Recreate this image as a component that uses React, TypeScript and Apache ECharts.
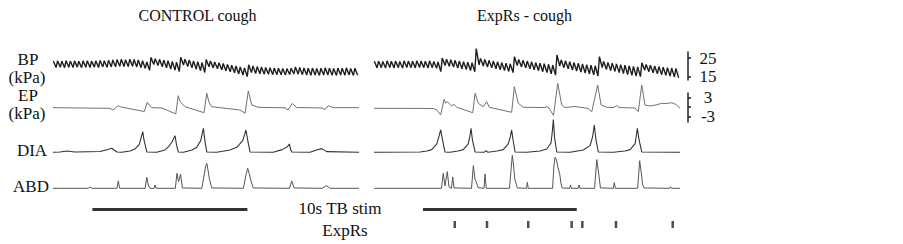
import { useEffect, useRef } from "react";
import * as echarts from "echarts";

// ---- time base (seconds) ----
const PANEL_SECONDS = 19.74;
const BEAT_SECONDS = 0.274;

// ---- BP (kPa): per-beat systolic peaks and diastolic troughs ----
const BP_LEFT_PEAKS = [
  23.4, 23.5, 23.4, 23.6, 23.4, 23.5, 23.3, 23.5, 23.6, 23.4, 23.5, 23.7, 23.6, 23.8,
  24.0, 24.2, 24.3, 24.1, 24.4, 24.2, 24.0, 23.6,
  23.0,
  25.3,
  24.6, 24.3, 23.9, 23.6, 23.2, 22.8,
  25.4,
  24.4, 24.0, 23.5, 23.1, 22.6,
  24.2,
  23.4, 22.9, 22.5, 22.1, 21.6, 21.2, 20.8, 20.3, 19.8,
  21.4,
  20.8, 20.5, 20.3, 20.0, 19.9, 19.7, 19.6, 19.5, 19.4, 19.6,
  20.3, 20.0, 19.8, 19.6, 19.7, 19.5, 19.6, 19.8, 19.6, 19.5, 19.7, 19.6, 19.8, 19.5, 19.6,
];
const BP_LEFT_TROUGHS = [
  20.0, 20.1, 19.9, 20.1, 20.0, 20.2, 19.9, 20.1, 20.0, 20.2, 20.0, 20.3, 20.1, 20.3,
  20.4, 20.6, 20.5, 20.4, 20.6, 20.3, 19.9, 19.5,
  18.5,
  21.6,
  21.0, 20.4, 19.8, 19.2, 18.6, 17.9,
  21.3,
  20.5, 19.8, 19.1, 18.3, 17.4,
  20.4,
  19.8, 19.3, 18.8, 18.2, 17.7, 17.2, 16.6, 16.0, 15.2,
  17.3,
  16.9, 16.7, 16.5, 16.4, 16.3, 16.2, 16.2, 16.1, 16.3, 16.6,
  16.5, 16.2, 16.0, 15.9, 16.0, 15.8, 16.0, 16.1, 15.9, 15.8, 16.0, 15.9, 16.1, 15.8, 15.9,
];
const BP_RIGHT_PEAKS = [
  23.3, 23.4, 23.2, 23.5, 23.3, 23.4, 23.2, 23.5, 23.4, 23.3, 23.5, 23.4, 23.3, 23.5, 23.2,
  22.9,
  25.0,
  24.4, 24.1, 23.8, 23.4, 23.1, 22.8, 22.5,
  30.0,
  24.8, 24.2, 23.8, 23.4, 23.0, 22.6, 22.3, 21.9,
  25.7,
  24.2, 23.8, 23.4, 23.0, 22.6, 22.3, 22.0, 21.7, 21.3,
  26.6,
  24.0, 23.5, 23.1, 22.6, 22.2, 21.8, 21.5, 21.2, 20.9,
  25.7,
  23.2, 22.7, 22.3, 21.9, 21.5, 21.2, 20.9, 20.6, 20.3,
  22.5,
  21.6, 21.2, 20.8, 20.5, 20.2, 19.9, 19.7, 19.5,
];
const BP_RIGHT_TROUGHS = [
  19.8, 19.9, 19.7, 20.0, 19.8, 19.9, 19.7, 20.0, 19.9, 19.8, 20.0, 19.9, 19.8, 19.9, 19.6,
  17.8,
  21.0,
  20.6, 20.2, 19.7, 19.3, 18.9, 18.4, 17.8,
  21.4,
  20.8, 20.3, 19.8, 19.3, 18.8, 18.4, 17.9, 17.3,
  21.0,
  20.3, 19.8, 19.3, 18.8, 18.3, 17.8, 17.3, 16.7, 16.0,
  20.8,
  19.9, 19.3, 18.7, 18.2, 17.6, 17.1, 16.6, 16.1, 15.5,
  20.0,
  19.0, 18.4, 17.9, 17.3, 16.8, 16.3, 15.9, 15.5, 15.2,
  18.6,
  17.8, 17.2, 16.7, 16.2, 15.8, 15.4, 15.0, 14.6,
];

// ---- EP (kPa): [time s, value] ----
const EP_LEFT: [number, number][] = [
  [0, -0.15], [3.68, -0.35], [3.87, -0.9], [4.21, 0.47], [4.39, 0.06], [5.89, -1.34], [6.08, 1.53],
  [6.23, 0.53], [6.37, -0.15], [7.03, -0.25], [7.92, -2.1], [8.08, 3.6], [8.16, 2.25], [8.24, 1.53],
  [8.52, 0.16], [9.74, -1.72], [9.92, 4.34], [10.06, 1.6], [10.24, 0.16], [12.06, -0.88], [12.39, -1.9],
  [12.6, 5.06], [12.82, 0.69], [13.23, -0.03], [14.97, -0.19], [15.16, -0.88], [15.44, 1.16],
  [15.72, -0.1], [17.35, -0.25], [17.55, -0.72], [17.76, 0.47], [18.08, -0.15], [19.74, -0.15],
];
const EP_RIGHT: [number, number][] = [
  [0, -0.34], [3.83, -0.4], [4.05, -0.88], [4.3, -2.44], [4.52, 2.47], [4.62, 1.3], [4.73, 1.72],
  [5.01, 0.38], [5.16, 0.9], [5.34, -0.03], [6.37, -1.72], [6.52, 4.34], [6.73, 1.22], [7.05, 0.16],
  [7.27, 1.72], [7.44, -0.03], [8.88, -1.6], [9.05, 6.4], [9.31, 1.22], [9.63, -0.03], [11.03, -0.1],
  [11.16, 0.2], [11.29, -0.25], [11.58, -2.6], [11.85, 7.47], [12.11, 0.69], [12.32, -0.1],
  [12.97, 0.22], [13.42, -0.1], [13.81, -0.4], [14.05, -1.4], [14.43, 6.94], [14.65, 0.69],
  [15.01, -0.03], [15.48, -0.1], [15.66, 0.53], [15.81, -0.1], [16.84, -0.25], [17.05, -1.4],
  [17.27, 6.94], [17.48, 0.69], [17.81, 0.38], [18.19, 0.69], [18.56, 1.22], [18.84, 1.16],
  [19.21, 1.4], [19.48, 0.84], [19.74, -0.34],
];

// ---- DIA EMG (a.u.): [time s, value] ----
const DIA_LEFT: [number, number][] = [
  [0, 0], [0.45, 1], [0.9, 4], [1.42, 1], [3.03, 2.4], [3.55, 8.4], [3.79, 12], [3.94, 7], [4.13, 1],
  [4.43, 0], [4.97, 4], [5.29, 10], [5.57, 24], [5.68, 43], [5.79, 62], [5.87, 37], [6.05, 1],
  [6.69, 0], [7.23, 7], [7.44, 16], [7.68, 31], [7.87, 50], [7.97, 22], [8.08, 1], [8.41, 0],
  [8.97, 7], [9.27, 15], [9.53, 35], [9.7, 72], [9.81, 31], [9.92, 1], [10.56, 0], [11.42, 7],
  [11.85, 15], [12.24, 35], [12.45, 67], [12.58, 31], [12.71, 1], [14.21, 0], [14.77, 8],
  [15.1, 16], [15.25, 25], [15.32, 10], [15.4, 1], [16.58, 0], [17.01, 7], [17.34, 11],
  [17.66, 2], [19.74, 0],
];
const DIA_RIGHT: [number, number][] = [
  [0, 0], [2.97, 1], [3.42, 4], [3.72, 8], [4.05, 25], [4.2, 49], [4.3, 67], [4.42, 37], [4.58, 1],
  [4.9, 0], [5.42, 4], [5.76, 8], [6.08, 25], [6.19, 49], [6.26, 72], [6.35, 37], [6.52, 1],
  [7.1, 0], [7.23, 5], [7.35, 0], [7.94, 4], [8.34, 8], [8.66, 25], [8.79, 46], [8.88, 67],
  [8.97, 37], [9.1, 1], [9.85, 0], [10.71, 4], [11.14, 10], [11.42, 28], [11.5, 61], [11.57, 98],
  [11.65, 43], [11.79, 1], [12.65, 0], [13.5, 7], [13.94, 20], [14.1, 46], [14.21, 82],
  [14.32, 37], [14.47, 1], [15.44, 0], [16.19, 4], [16.52, 8], [16.84, 25], [16.92, 49],
  [16.99, 72], [17.1, 37], [17.27, 1], [19.74, 0],
];

// ---- ABD EMG (a.u.): [time s, value] ----
const ABD_LEFT: [number, number][] = [
  [0, 0], [2.26, 0], [2.39, 4], [2.52, 0], [4.13, 0], [4.21, 22], [4.3, 0], [5.94, 0], [6.05, 33],
  [6.16, 7], [6.26, 0], [6.52, 0], [6.58, 10], [6.65, 0], [7.89, 0], [8.0, 45], [8.1, 20],
  [8.23, 42], [8.35, 1], [9.6, 0], [9.74, 37], [9.84, 64], [9.92, 75], [10.0, 55], [10.08, 30],
  [10.24, 1], [12.28, 0], [12.45, 40], [12.56, 60], [12.68, 40], [12.77, 22], [12.92, 1],
  [15.26, 0], [15.4, 22], [15.55, 1], [17.35, 0], [17.66, 8], [17.87, 0], [19.74, 0],
];
const ABD_RIGHT: [number, number][] = [
  [0, 0], [4.35, 0], [4.47, 45], [4.58, 7], [4.73, 50], [4.84, 4], [5.0, 0], [5.08, 34], [5.16, 1],
  [6.29, 0], [6.41, 68], [6.52, 25], [6.6, 19], [6.71, 2], [7.1, 0], [7.16, 43], [7.24, 0],
  [8.74, 0], [8.84, 55], [8.92, 99], [9.0, 70], [9.08, 28], [9.25, 1], [9.84, 0], [9.89, 18],
  [9.95, 0], [11.52, 0], [11.61, 70], [11.68, 93], [11.77, 86], [11.87, 61], [11.98, 43],
  [12.06, 16], [12.13, 1], [12.63, 0], [12.68, 10], [12.73, 0], [13.17, 0], [13.23, 10],
  [13.28, 0], [14.23, 0], [14.37, 86], [14.48, 49], [14.61, 1], [15.44, 0], [15.5, 17],
  [15.57, 0], [17.01, 0], [17.14, 83], [17.26, 40], [17.32, 13], [17.42, 1], [19.06, 0],
  [19.13, 5], [19.19, 0], [19.74, 0],
];

// ---- events ----
const STIM_LEFT = [2.54, 12.54];
const STIM_RIGHT = [3.16, 13.08];
const EXPR_TIMES = [5.21, 7.29, 9.95, 12.75, 13.44, 15.61, 19.27];

// ---- scale bars ----
const BP_SCALE_TICKS = [15, 25];
const EP_SCALE_TICKS = [-3, 0, 3];
const EP_SCALE_LABELS = [-3, 3];

// ---- texts ----
const PANEL_TITLES = ["CONTROL cough", "ExpRs - cough"];
const ROW_LABELS = ["BP", "(kPa)", "EP", "(kPa)", "DIA", "ABD"];

const SERIF = '"Liberation Serif", "Times New Roman", Times, serif';

function beatsToPoints(peaks: number[], troughs: number[]): [number, number][] {
  const pts: [number, number][] = [];
  peaks.forEach((p, i) => {
    pts.push([i * BEAT_SECONDS + 0.02, p]);
    pts.push([i * BEAT_SECONDS + 0.2, troughs[i]]);
  });
  return pts;
}

export default function App() {
  const ref = useRef<HTMLDivElement>(null);

  useEffect(() => {
    if (!ref.current) return;
    const chart = echarts.init(ref.current, undefined, { renderer: "svg" });

    const panels = [
      { left: 53, width: 306 },
      { left: 374, width: 306 },
    ];
    const rows = [
      { top: 46.6, height: 33.25, min: 13.5, max: 31 }, // BP
      { top: 80.64, height: 40.96, min: -4.5, max: 8.3 }, // EP
      { top: 117.3, height: 36, min: -3, max: 105 }, // DIA
      { top: 153.3, height: 36, min: -3, max: 105 }, // ABD
      { top: 209.5, height: 15, min: 0, max: 1 }, // events
    ];

    const grids: any[] = [];
    const xAxes: any[] = [];
    const yAxes: any[] = [];
    rows.forEach((r) => {
      panels.forEach((p) => {
        const gi = grids.length;
        grids.push({ left: p.left, width: p.width, top: r.top, height: r.height, containLabel: false });
        xAxes.push({ gridIndex: gi, type: "value", min: 0, max: PANEL_SECONDS, show: false });
        yAxes.push({ gridIndex: gi, type: "value", min: r.min, max: r.max, show: false });
      });
    });
    const gIdx = (row: number, panel: number) => row * 2 + panel;

    // scale bar grids
    const scaleAxisCommon = {
      type: "value",
      position: "right",
      axisLine: { show: true, onZero: false, lineStyle: { color: "#222", width: 1.5 } },
      splitLine: { show: false },
    };
    const bpScaleGrid = grids.length;
    grids.push({ left: 687, width: 1, top: 52, height: 28 });
    xAxes.push({ gridIndex: bpScaleGrid, type: "value", min: 0, max: 1, show: false });
    yAxes.push({
      ...scaleAxisCommon,
      gridIndex: bpScaleGrid,
      min: 13.42,
      max: 28.16,
      axisTick: { show: true, inside: false, length: 3, customValues: BP_SCALE_TICKS, lineStyle: { color: "#222", width: 1.5 } },
      axisLabel: { show: true, customValues: BP_SCALE_TICKS, margin: 20, align: "center", fontFamily: SERIF, fontSize: 17, color: "#111" },
    });
    const epScaleGrid = grids.length;
    grids.push({ left: 687, width: 1, top: 93, height: 29 });
    xAxes.push({ gridIndex: epScaleGrid, type: "value", min: 0, max: 1, show: false });
    yAxes.push({
      ...scaleAxisCommon,
      gridIndex: epScaleGrid,
      min: -4.63,
      max: 4.44,
      axisTick: { show: true, inside: false, length: 3, customValues: EP_SCALE_TICKS, lineStyle: { color: "#222", width: 1.5 } },
      axisLabel: { show: true, customValues: EP_SCALE_LABELS, margin: 20, align: "center", fontFamily: SERIF, fontSize: 17, color: "#111" },
    });

    const trace = (gi: number, data: [number, number][], color: string, width: number) => ({
      type: "line",
      xAxisIndex: gi,
      yAxisIndex: gi,
      data,
      symbol: "none",
      silent: true,
      lineStyle: { color, width },
    });

    const series: any[] = [
      trace(gIdx(0, 0), beatsToPoints(BP_LEFT_PEAKS, BP_LEFT_TROUGHS), "#1e1e1e", 1.4),
      trace(gIdx(0, 1), beatsToPoints(BP_RIGHT_PEAKS, BP_RIGHT_TROUGHS), "#1e1e1e", 1.4),
      trace(gIdx(1, 0), EP_LEFT, "#707070", 1),
      trace(gIdx(1, 1), EP_RIGHT, "#707070", 1),
      trace(gIdx(2, 0), DIA_LEFT, "#333333", 1.1),
      trace(gIdx(2, 1), DIA_RIGHT, "#333333", 1.1),
      trace(gIdx(3, 0), ABD_LEFT, "#555555", 1),
      trace(gIdx(3, 1), ABD_RIGHT, "#555555", 1),
      trace(gIdx(4, 0), [[STIM_LEFT[0], 1], [STIM_LEFT[1], 1]], "#333333", 3),
      trace(gIdx(4, 1), [[STIM_RIGHT[0], 1], [STIM_RIGHT[1], 1]], "#333333", 3),
      {
        type: "scatter",
        xAxisIndex: gIdx(4, 1),
        yAxisIndex: gIdx(4, 1),
        data: EXPR_TIMES.map((t) => [t, 0]),
        symbol: "rect",
        symbolSize: [2.5, 7],
        silent: true,
        itemStyle: { color: "#222" },
      },
    ];

    const txt = (text: string, x: number, y: number, size: number) => ({
      type: "text",
      x,
      y,
      silent: true,
      style: {
        text,
        fill: "#111",
        fontFamily: SERIF,
        fontSize: size,
        align: "center",
        verticalAlign: "middle",
        textAlign: "center",
        textVerticalAlign: "middle",
      },
    });

    const labelPos = [
      [28, 59],
      [27, 77],
      [28, 95],
      [27, 113],
      [32, 150],
      [31, 186],
    ];

    const graphic: any[] = [
      txt(PANEL_TITLES[0], 197.5, 15, 16),
      txt(PANEL_TITLES[1], 524.5, 15, 16),
      ...ROW_LABELS.map((l, i) => txt(l, labelPos[i][0], labelPos[i][1], 17)),
      txt("10s TB stim", 340, 208, 17),
      txt("ExpRs", 345, 230, 17),
    ];

    chart.setOption({
      animation: false,
      backgroundColor: "#ffffff",
      grid: grids,
      xAxis: xAxes,
      yAxis: yAxes,
      series,
      graphic,
    });

    return () => chart.dispose();
  }, []);

  return (
    <div
      ref={ref}
      style={{ position: "fixed", left: 0, top: 0, width: 903, height: 244, background: "#fff" }}
    />
  );
}
